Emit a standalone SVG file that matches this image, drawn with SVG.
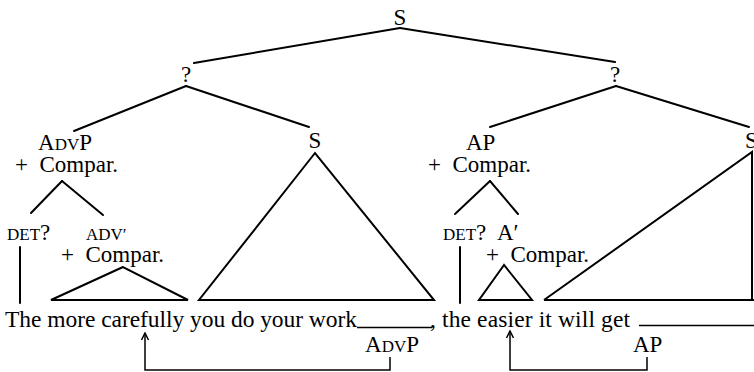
<svg xmlns="http://www.w3.org/2000/svg" width="754" height="372" viewBox="0 0 754 372">
<defs>
<style>
text{font-family:"Liberation Serif","Times New Roman",serif;fill:#000}
.lab{font-size:23px}
.sc{font-size:17px}
.main{font-size:23.5px}
.e{stroke:#000;stroke-width:2;fill:none;stroke-linecap:round}
.tri{stroke:#000;stroke-width:2;fill:none;stroke-linejoin:miter}
.mv{stroke:#000;stroke-width:1.5;fill:none}
</style>
<marker id="ah" markerWidth="10" markerHeight="10" refX="9" refY="5" orient="auto" markerUnits="userSpaceOnUse" viewBox="0 0 10 10">
<path d="M2,1.5 L9,5 L2,8.5" fill="none" stroke="#000" stroke-width="1.5"/>
</marker>
</defs>
<rect width="754" height="372" fill="#fff"/>

<g id="connectors">
<line class="e" x1="400" y1="28" x2="194" y2="63"/>
<line class="e" x1="400" y1="28" x2="615" y2="62"/>
<line class="e" x1="186" y1="86" x2="74" y2="131"/>
<line class="e" x1="186" y1="86" x2="309" y2="127"/>
<line class="e" x1="616" y1="86" x2="490" y2="127"/>
<line class="e" x1="616" y1="86" x2="749" y2="127"/>
<line class="e" x1="62" y1="181" x2="31" y2="213"/>
<line class="e" x1="62" y1="181" x2="103" y2="215"/>
<line class="e" x1="490" y1="181" x2="455" y2="214"/>
<line class="e" x1="490" y1="181" x2="518" y2="214"/>
<line class="e" x1="20" y1="247" x2="20" y2="303"/>
<line class="e" x1="460" y1="247" x2="460" y2="303"/>
<polyline class="mv" points="390,357 390,370 145,370 145,333" marker-end="url(#ah)"/>
<polyline class="mv" points="647,357 647,370 510,370 510,331" marker-end="url(#ah)"/>
</g>

<g id="S-top"><text class="lab" x="400" y="25" text-anchor="middle">S</text></g>
<g id="Q-left"><text class="lab" x="186" y="82" text-anchor="middle">?</text></g>
<g id="Q-right"><text class="lab" x="615" y="82" text-anchor="middle">?</text></g>

<g id="AdvP-comp">
<text class="lab" x="38" y="150">A<tspan class="sc">DV</tspan>P</text>
<text class="lab" x="15" y="172">+&#160; Compar.</text>
</g>
<g id="S-left">
<text class="lab" x="315" y="148" text-anchor="middle">S</text>
<polygon class="tri" points="315,153 199,300 434,300"/>
</g>
<g id="AP-comp">
<text class="lab" x="466" y="150">AP</text>
<text class="lab" x="428" y="172">+&#160; Compar.</text>
</g>
<g id="S-right">
<text class="lab" x="745" y="148">S</text>
<polyline class="tri" points="544,300 752,152 752,300 544,300"/>
<line class="tri" x1="752" y1="300" x2="754" y2="300"/>
</g>

<g id="DET-left"><text x="7" y="240"><tspan class="sc">DET</tspan><tspan class="lab">?</tspan></text></g>
<g id="ADVbar">
<text class="sc" x="86" y="240">ADV′</text>
<text class="lab" x="61" y="262">+&#160; Compar.</text>
<polygon class="tri" points="123,267 51,300 188,300"/>
</g>
<g id="DET-right"><text x="443" y="240"><tspan class="sc">DET</tspan><tspan class="lab">?</tspan></text></g>
<g id="Abar">
<text class="lab" x="497" y="240">A′</text>
<text class="lab" x="486" y="262">+&#160; Compar.</text>
<polygon class="tri" points="504,265 479,300 532,300"/>
</g>

<g id="sentence">
<text class="main" x="5" y="327" textLength="352" lengthAdjust="spacing">The more carefully you do your work</text>
<line x1="357" y1="327.5" x2="432" y2="327.5" stroke="#000" stroke-width="1.5"/>
<text class="main" x="430" y="327" textLength="200" lengthAdjust="spacing">, the easier it will get</text>
<line x1="639" y1="325.5" x2="754" y2="325.5" stroke="#000" stroke-width="1.5"/>
</g>

<g id="AdvP-gap"><text class="lab" x="365" y="352">A<tspan class="sc">DV</tspan>P</text></g>
<g id="AP-gap"><text class="lab" x="633" y="352">AP</text></g>
</svg>
